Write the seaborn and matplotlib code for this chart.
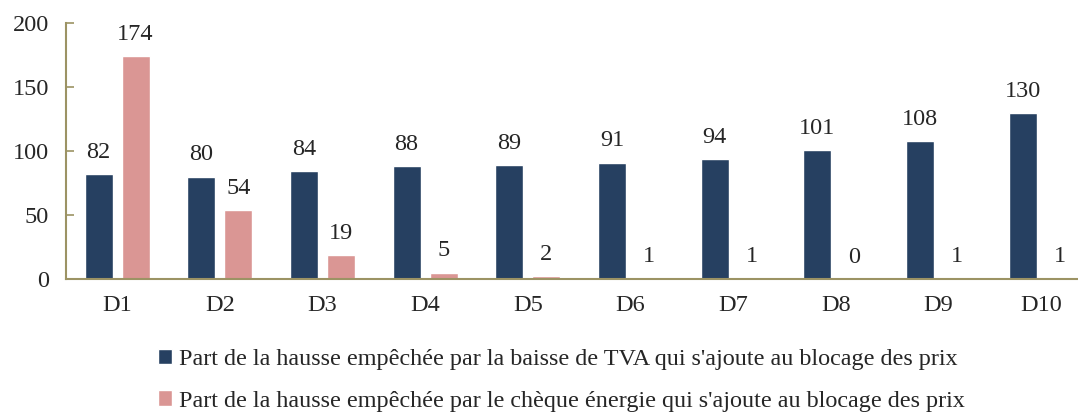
import numpy as np
import pandas as pd
import matplotlib
matplotlib.use('Agg')
import matplotlib.pyplot as plt
import seaborn as sns

# data
deciles = ['D1', 'D2', 'D3', 'D4', 'D5', 'D6', 'D7', 'D8', 'D9', 'D10']
tva = [82, 80, 84, 88, 89, 91, 94, 101, 108, 130]
cheque = [174, 54, 19, 5, 2, 1, 1, 0, 1, 1]
series_names = [
    "Part de la hausse empêchée par la baisse de TVA qui s'ajoute au blocage des prix",
    "Part de la hausse empêchée par le chèque énergie qui s'ajoute au blocage des prix",
]
colors = ['#264061', '#DA9694']
spine_color = '#9C9364'

df = pd.DataFrame({
    'decile': deciles * 2,
    'value': tva + cheque,
    'serie': [series_names[0]] * len(deciles) + [series_names[1]] * len(deciles),
})

sns.set_style('white')
plt.rcParams['font.family'] = ['Liberation Serif', 'DejaVu Serif']

fig = plt.figure(figsize=(10.78, 4.12), dpi=100)
ax = fig.add_axes([0.061, 0.323, 0.939, 0.621])

sns.barplot(data=df, x='decile', y='value', hue='serie', palette=colors,
            width=0.72, gap=0.24, ax=ax, legend=True, saturation=1)

# value labels above each bar
for cont in ax.containers:
    ax.bar_label(cont, fmt='%d', padding=8, fontsize=17.5)

ax.set_ylim(0, 200)
ax.set_yticks([0, 50, 100, 150, 200])
ax.set_xlim(-0.5, 9.36)
ax.set_xlabel('')
ax.set_ylabel('')
ax.tick_params(axis='y', labelsize=17.5, left=True, length=6, width=1.2,
               color=spine_color, direction='in', pad=12)
ax.tick_params(axis='x', labelsize=17.5, bottom=False, pad=8)

for side in ['top', 'right']:
    ax.spines[side].set_visible(False)
for side in ['left', 'bottom']:
    ax.spines[side].set_color(spine_color)
    ax.spines[side].set_linewidth(1.5)

leg = ax.legend(loc='upper left', bbox_to_anchor=(0.082, -0.235), ncol=1,
                frameon=False, fontsize=17.4, handlelength=0.55, handleheight=0.6,
                handletextpad=0.3, labelspacing=0.85, borderaxespad=0)

fig.savefig('out.png', dpi=100)
